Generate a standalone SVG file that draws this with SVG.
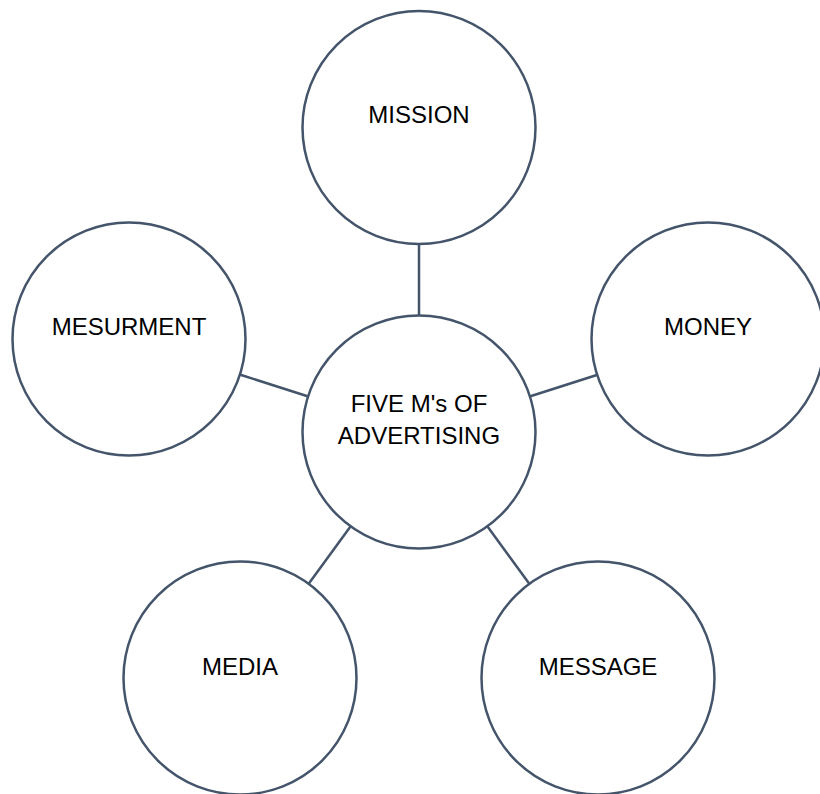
<svg xmlns="http://www.w3.org/2000/svg" width="820" height="794" viewBox="0 0 820 794">
<style>
.n{fill:#ffffff;stroke:#44546a;stroke-width:2.5}
.c{stroke:#44546a;stroke-width:2.5;fill:none}
.t{font-family:"Liberation Sans",Arial,sans-serif;font-size:24px;fill:#000000;text-anchor:middle}
</style>
<rect width="820" height="794" fill="#ffffff"/>
<g id="connectors">
<line class="c" x1="419" y1="244" x2="419" y2="315.5"/>
<line class="c" x1="240.4" y1="374.7" x2="307.6" y2="396.3"/>
<line class="c" x1="597.6" y1="374.7" x2="530.4" y2="396.3"/>
<line class="c" x1="308.7" y1="583.7" x2="350.3" y2="526.8"/>
<line class="c" x1="529.3" y1="583.7" x2="487.7" y2="526.8"/>
</g>
<g id="center">
<circle class="n" cx="419" cy="432" r="116.5"/>
<text class="t" x="419" y="412">FIVE M's OF</text>
<text class="t" x="419" y="444">ADVERTISING</text>
</g>
<g id="mission">
<circle class="n" cx="419" cy="127.5" r="116.5"/>
<text class="t" x="419" y="123">MISSION</text>
</g>
<g id="mesurment">
<circle class="n" cx="129" cy="339" r="116.5"/>
<text class="t" x="129" y="335">MESURMENT</text>
</g>
<g id="money">
<circle class="n" cx="708" cy="339" r="116.5"/>
<text class="t" x="708" y="335">MONEY</text>
</g>
<g id="media">
<circle class="n" cx="240" cy="678" r="116.5"/>
<text class="t" x="240" y="675">MEDIA</text>
</g>
<g id="message">
<circle class="n" cx="598" cy="678" r="116.5"/>
<text class="t" x="598" y="675">MESSAGE</text>
</g>
</svg>
